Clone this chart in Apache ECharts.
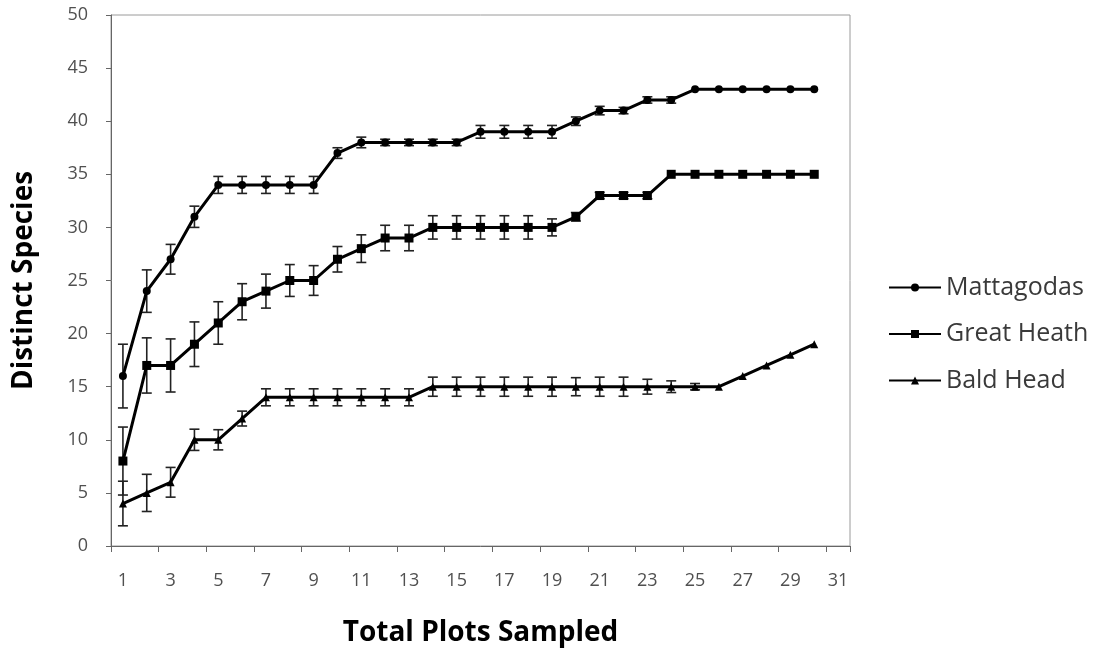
<!DOCTYPE html>
<html><head><meta charset="utf-8">
<script src="https://cdn.jsdelivr.net/npm/echarts@6/dist/echarts.min.js"></script>
<style>html,body{margin:0;padding:0;background:#fff}#c{width:1096px;height:649px}</style>
</head><body><div id="c"></div>
<script>
const categories = ['1','2','3','4','5','6','7','8','9','10','11','12','13','14','15','16','17','18','19','20','21','22','23','24','25','26','27','28','29','30','31'];
const seriesNames = ['Mattagodas','Great Heath','Bald Head'];
const mattagodas = [16,24,27,31,34,34,34,34,34,37,38,38,38,38,38,39,39,39,39,40,41,41,42,42,43,43,43,43,43,43];
const mattagodasErr = [3,2,1.4,1,0.8,0.8,0.8,0.8,0.8,0.5,0.5,0.3,0.3,0.3,0.3,0.6,0.6,0.6,0.6,0.4,0.4,0.3,0.3,0.3,0,0,0,0,0,0];
const greatHeath = [8,17,17,19,21,23,24,25,25,27,28,29,29,30,30,30,30,30,30,31,33,33,33,35,35,35,35,35,35,35];
const greatHeathErr = [3.2,2.6,2.5,2.1,2,1.7,1.6,1.5,1.4,1.2,1.3,1.2,1.2,1.1,1.1,1.1,1.1,1.1,0.8,0.4,0.3,0.3,0.3,0,0,0,0,0,0,0];
const baldHead = [4,5,6,10,10,12,14,14,14,14,14,14,14,15,15,15,15,15,15,15,15,15,15,15,15,15,16,17,18,19];
const baldHeadErr = [2.1,1.75,1.4,1,0.95,0.7,0.8,0.8,0.8,0.8,0.8,0.8,0.8,0.9,0.9,0.9,0.9,0.9,0.9,0.85,0.9,0.9,0.7,0.55,0.3,0,0,0,0,0];

const FONT = 'Open Sans';
function errSeries(vals, errs) {
  const data = vals.map((v, i) => [i, v - errs[i], v + errs[i]]);
  return {
    type: 'custom', silent: true, z: 1,
    renderItem: function (params, api) {
      const x = api.value(0);
      const lo = api.coord([x, api.value(1)]);
      const hi = api.coord([x, api.value(2)]);
      if (Math.abs(hi[1] - lo[1]) < 1) return null;
      const w = 5;
      const st = {stroke: '#222', lineWidth: 1.6};
      return {type: 'group', children: [
        {type: 'line', shape: {x1: lo[0], y1: lo[1], x2: hi[0], y2: hi[1]}, style: st},
        {type: 'line', shape: {x1: lo[0]-w, y1: lo[1], x2: lo[0]+w, y2: lo[1]}, style: st},
        {type: 'line', shape: {x1: hi[0]-w, y1: hi[1], x2: hi[0]+w, y2: hi[1]}, style: st}
      ]};
    },
    encode: {x: 0, y: [1, 2]},
    data: data
  };
}
function lineSeries(name, vals, symbol, size) {
  return {
    name: name, type: 'line', data: vals, symbol: symbol, symbolSize: size, z: 3,
    lineStyle: {color: '#000', width: 3}, itemStyle: {color: '#000'},
    showSymbol: true, animation: false
  };
}
const chart = echarts.init(document.getElementById('c'));
chart.setOption({
  animation: false,
  backgroundColor: '#fff',
  grid: {left: 111, top: 15, right: 246, bottom: 103, show: true, borderColor: '#9a9a9a', borderWidth: 1,
         containLabel: false, outerBoundsMode: 'none'},
  legend: {
    data: seriesNames, orient: 'vertical', left: 888, top: 274, padding: 0,
    itemWidth: 52, itemHeight: 10, itemGap: 19.5,
    textStyle: {fontFamily: FONT, fontSize: 25, lineHeight: 27, color: '#3a3a3a'},
    selectedMode: false
  },
  xAxis: {
    type: 'category', data: categories, boundaryGap: true,
    name: 'Total Plots Sampled', nameLocation: 'middle', nameGap: 73,
    nameTextStyle: {fontFamily: FONT, fontSize: 28, fontWeight: 'bold', color: '#000'},
    axisLine: {lineStyle: {color: '#666', width: 1}},
    axisTick: {show: true, length: 6, lineStyle: {color: '#666'}},
    axisLabel: {interval: 1, fontFamily: FONT, fontSize: 18, color: '#505050', margin: 26}
  },
  yAxis: {
    type: 'value', min: 0, max: 50, interval: 5,
    name: 'Distinct Species', nameLocation: 'middle', nameGap: 73,
    nameTextStyle: {fontFamily: FONT, fontSize: 28, fontWeight: 'bold', color: '#000'},
    axisLine: {show: true, lineStyle: {color: '#666', width: 1}},
    axisTick: {show: true, length: 5, lineStyle: {color: '#666'}},
    splitLine: {show: false},
    axisLabel: {fontFamily: FONT, fontSize: 18, color: '#505050', margin: 23}
  },
  series: [
    errSeries(mattagodas, mattagodasErr),
    errSeries(greatHeath, greatHeathErr),
    errSeries(baldHead, baldHeadErr),
    lineSeries(seriesNames[0], mattagodas, 'circle', 8),
    lineSeries(seriesNames[1], greatHeath, 'rect', 9),
    lineSeries(seriesNames[2], baldHead, 'triangle', 8)
  ]
});
</script></body></html>
